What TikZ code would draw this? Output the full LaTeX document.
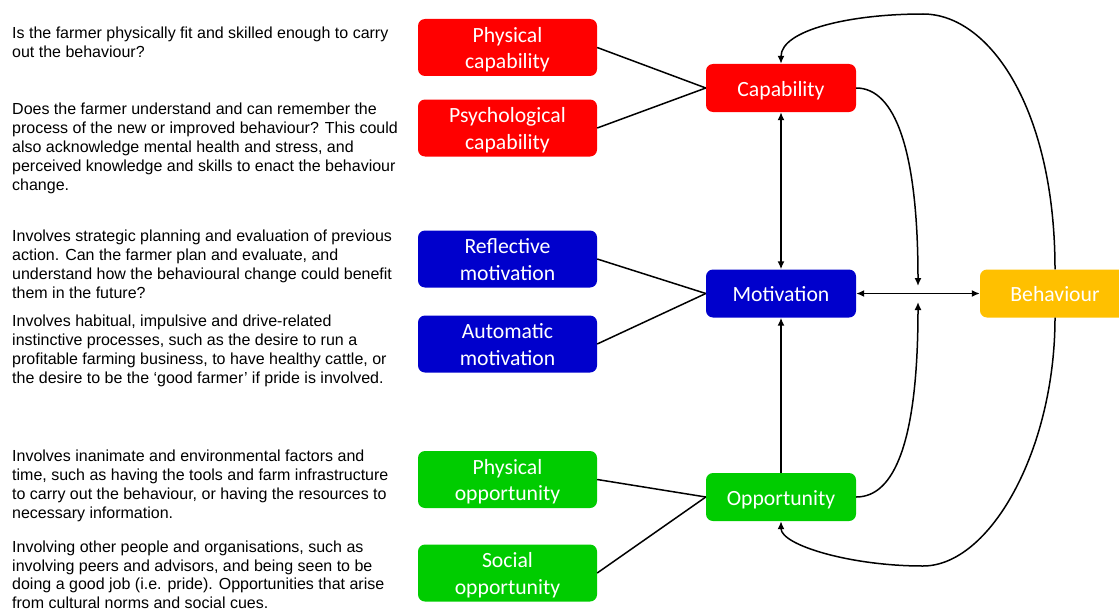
\documentclass[tikz,border=0pt]{standalone}
\usepackage{fontspec}
\setmainfont{Liberation Sans}
\newfontfamily\labelfont{Carlito}
\usetikzlibrary{arrows.meta}
\definecolor{capred}{HTML}{FF0000}
\definecolor{motblue}{HTML}{0000CC}
\definecolor{oppgreen}{HTML}{00CC00}
\definecolor{behyellow}{HTML}{FFC000}
\begin{document}
\begin{tikzpicture}[x=1pt,y=-1pt,
  >={Latex[length=8pt,width=7pt]},
  subbox/.style={rounded corners=7pt, minimum width=179pt, minimum height=57pt,
    inner sep=0pt, text=white, align=center, text height=42pt, text depth=0pt,
    font=\labelfont\fontsize{21.7}{26.3}\selectfont},
  mainbox/.style={rounded corners=7pt, minimum width=150pt, minimum height=48pt,
    inner sep=0pt, text=white, text height=16pt, text depth=0pt,
    font=\labelfont\fontsize{21.7}{26.3}\selectfont},
  note/.style={anchor=base west, inner sep=0pt, align=left,
    font=\fontsize{16}{19}\selectfont},
  link/.style={line width=1.5pt, draw=black}]

\useasboundingbox (0,0) rectangle (1119,610);

% component boxes
\node[subbox, fill=capred]   (physcap)  at (507.5,47.5) {Physical\\capability};
\node[subbox, fill=capred]   (psychcap) at (507.5,128)  {Psychological\\capability};
\node[subbox, fill=motblue]  (reflmot)  at (507.5,259)  {Reflective\\motivation};
\node[subbox, fill=motblue]  (automot)  at (507.5,344)  {Automatic\\motivation};
\node[subbox, fill=oppgreen] (physopp)  at (507.5,479.5){Physical\\opportunity};
\node[subbox, fill=oppgreen] (socopp)   at (507.5,573)  {Social\\opportunity};

% COM-B boxes
\node[mainbox, fill=capred]    (cap) at (781,88)    {Capability};
\node[mainbox, fill=motblue]   (mot) at (781,293.5) {Motivation};
\node[mainbox, fill=oppgreen]  (opp) at (781,497)   {Opportunity};
\node[mainbox, fill=behyellow] (beh) at (1055,293.5){Behaviour};

% helper points
\coordinate (jtop) at (918,286);
\coordinate (jbot) at (918,302);
\coordinate (toparc) at (923,14);
\coordinate (botarc) at (923,566);

% component links
\draw[link] (physcap.east) -- (cap.west);
\draw[link] (psychcap.east) -- (cap.west);
\draw[link] (reflmot.east) -- (mot.west);
\draw[link] (automot.east) -- (mot.west);
\draw[link] (physopp.east) -- (opp.west);
\draw[link] (socopp.east) -- (opp.west);

% COM-B arrows
\draw[link,<->] (cap.south) -- (mot.north);
\draw[link,->] (opp.north) -- (mot.south);
\draw[link,<->] (mot.east) -- (beh.west);
\draw[link,->] (cap.east) .. controls (895,88) and (918,150) .. (jtop);
\draw[link,->] (opp.east) .. controls (895,497) and (918,440) .. (jbot);
\draw[link,->] (beh.north) .. controls (1055,110) and (990,14) .. (toparc)
  .. controls (850,14) and (781,30) .. (cap.north);
\draw[link,->] (beh.south) .. controls (1055,450) and (990,566) .. (botarc)
  .. controls (850,566) and (781,545) .. (opp.south);

% descriptions (anchored at the baseline of the last line)
\node[note] (n1) at (12,58) {Is the farmer physically fit and skilled enough to carry\\out the behaviour?};
\node[note] (n2) at (12,190) {Does the farmer understand and can remember the\\process of the new or improved behaviour? This could\\also acknowledge mental health and stress, and\\perceived knowledge and skills to enact the behaviour\\change.};
\node[note] (n3) at (12,298) {Involves strategic planning and evaluation of previous\\action. Can the farmer plan and evaluate, and\\understand how the behavioural change could benefit\\them in the future?};
\node[note] (n4) at (12,383) {Involves habitual, impulsive and drive-related\\instinctive processes, such as the desire to run a\\profitable farming business, to have healthy cattle, or\\the desire to be the ‘good farmer’ if pride is involved.};
\node[note] (n5) at (12,518) {Involves inanimate and environmental factors and\\time, such as having the tools and farm infrastructure\\to carry out the behaviour, or having the resources to\\necessary information.};
\node[note, font=\fontsize{16}{18.5}\selectfont] (n6) at (12,608) {Involving other people and organisations, such as\\involving peers and advisors, and being seen to be\\doing a good job (i.e. pride). Opportunities that arise\\from cultural norms and social cues.};
\end{tikzpicture}
\end{document}
